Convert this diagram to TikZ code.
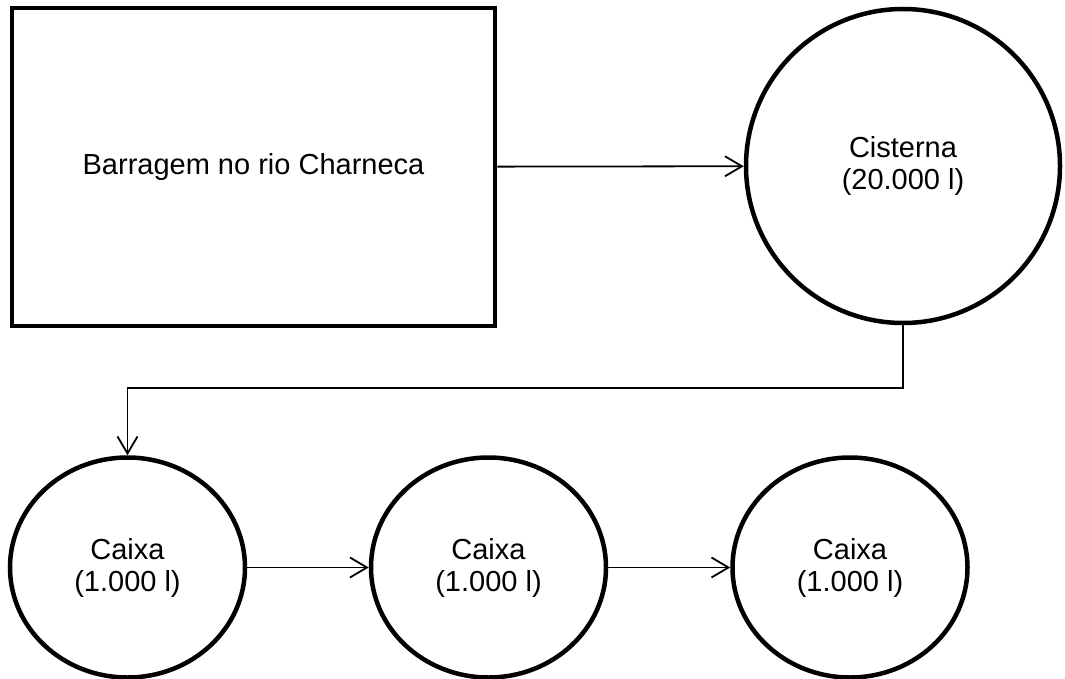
\documentclass[tikz,border=0pt]{standalone}
\usepackage{fontspec}
\setmainfont{Liberation Sans}
\usepackage{tikz}
\usetikzlibrary{arrows.meta,shapes.geometric}

\tikzset{
  tank/.style={draw,line width=4.5pt,align=center,inner sep=0pt,
    font=\fontsize{29}{32}\selectfont},
  caixa/.style={tank,ellipse,minimum width=235pt,minimum height=220pt},
  conn/.style={line width=1.8pt,->}
}

\begin{document}
\begin{tikzpicture}[x=1pt,y=-1pt,>={Straight Barb[length=17pt,width=20pt]}]
\useasboundingbox (0,0) rectangle (1065,679);
\node[tank,rectangle,minimum width=483pt,minimum height=318pt]
  (barragem) at (253.5,167) {Barragem no rio Charneca};
\node[tank,circle,minimum size=314pt] (cisterna) at (903,166) {Cisterna\\(20.000 l)};
\node[caixa] (caixaA) at (127.5,567.5) {Caixa\\(1.000 l)};
\node[caixa] (caixaB) at (488.5,567.5) {Caixa\\(1.000 l)};
\node[caixa] (caixaC) at (850,567.5) {Caixa\\(1.000 l)};
\coordinate (volta) at (500,388);
\draw[conn] (barragem) -- (cisterna);
\draw[conn] (cisterna.south) |- (volta) -| (caixaA.north);
\draw[conn] (caixaA) -- (caixaB);
\draw[conn] (caixaB) -- (caixaC);
\end{tikzpicture}
\end{document}
